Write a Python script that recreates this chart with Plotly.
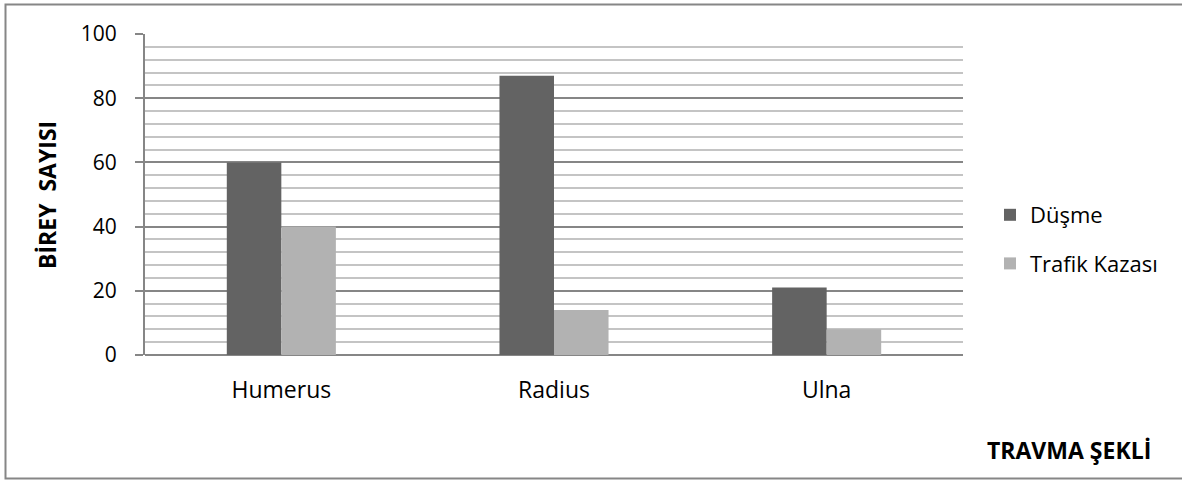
import plotly.graph_objects as go

# Fracture site categories and counts by trauma type
categories = ["Humerus", "Radius", "Ulna"]
dusme = [60, 87, 21]
trafik_kazasi = [40, 14, 8]
y_ticks = [0, 20, 40, 60, 80, 100]

FONT = "Open Sans, Calibri, sans-serif"
W, H = 1182, 480
L, R, T, B = 145, 219, 34, 125

fig = go.Figure()
fig.add_trace(go.Bar(
    x=categories, y=dusme, name="Düşme",
    marker=dict(color="#636363", line=dict(width=0)),
    legendgroup="a",
))
fig.add_trace(go.Bar(
    x=categories, y=trafik_kazasi, name="Trafik Kazası",
    marker=dict(color="#b2b2b2", line=dict(width=0)),
    legendgroup="b",
))

pw = W - L - R
ph = H - T - B


def px_x(p):
    return (p - L) / pw


def px_y(p):
    return (H - B - p) / ph


fig.update_layout(
    width=W, height=H,
    margin=dict(l=L, r=R, t=T, b=B, pad=0),
    paper_bgcolor="white", plot_bgcolor="white",
    barmode="group", bargap=0.6, bargroupgap=0,
    font=dict(family=FONT, size=22, color="black"),
    legend=dict(
        x=px_x(990), y=px_y(194), xanchor="left", yanchor="top",
        font=dict(family=FONT, size=22), tracegroupgap=17,
        bgcolor="rgba(0,0,0,0)", itemwidth=30,
    ),
    xaxis=dict(
        showgrid=False, showline=False, zeroline=False,
        ticks="", ticklabelstandoff=19,
        tickfont=dict(family=FONT, size=23),
    ),
    yaxis=dict(
        range=[0, 100], tickvals=y_ticks,
        showgrid=True, gridcolor="#868686", gridwidth=1.5,
        minor=dict(dtick=4, showgrid=True, gridcolor="#c4c4c4", gridwidth=1.5),
        showline=True, linecolor="#868686", linewidth=2,
        ticks="outside", ticklen=8, tickcolor="#868686", tickwidth=2,
        zeroline=True, zerolinecolor="#868686", zerolinewidth=2,
        ticklabelstandoff=14,
        tickfont=dict(family=FONT, size=21),
    ),
    shapes=[dict(
        type="rect", xref="paper", yref="paper",
        x0=px_x(5.5), x1=px_x(1190), y0=px_y(4.5), y1=px_y(478.5),
        line=dict(color="#868686", width=2), fillcolor="rgba(0,0,0,0)",
        layer="below",
    )],
    annotations=[
        dict(
            text="<b>BİREY  SAYISI</b>", xref="paper", yref="paper",
            x=px_x(47), y=px_y(195), xanchor="center", yanchor="middle",
            textangle=-90, showarrow=False,
            font=dict(family=FONT, size=23, color="black"),
        ),
        dict(
            text="<b>TRAVMA ŞEKLİ</b>", xref="paper", yref="paper",
            x=px_x(1069), y=px_y(450), xanchor="center", yanchor="middle",
            showarrow=False,
            font=dict(family=FONT, size=23, color="black"),
        ),
    ],
)

fig.write_html("out.html")
